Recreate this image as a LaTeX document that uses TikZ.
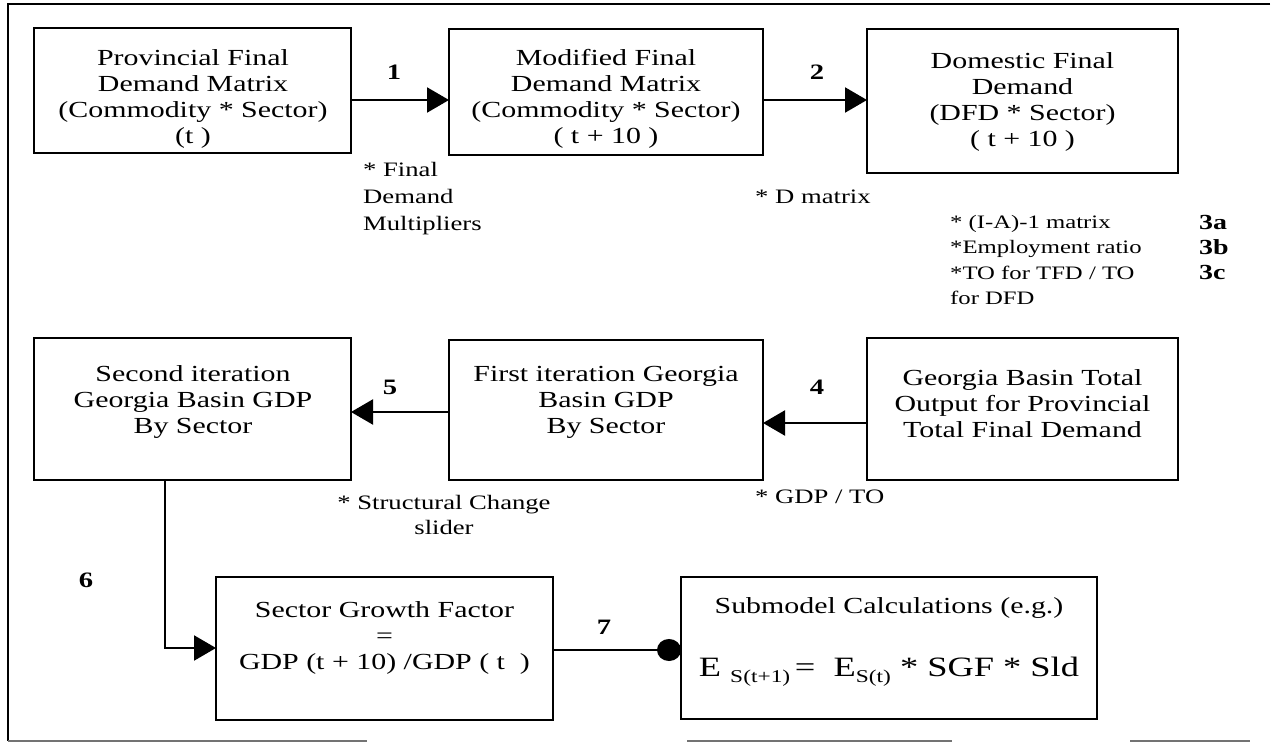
\documentclass[tikz,border=0pt]{standalone}
\usepackage{fontspec}
\setmainfont{Liberation Serif}[FakeStretch=1.3]
\usetikzlibrary{arrows.meta}
\begin{document}
\begin{tikzpicture}[x=1pt,y=-1pt,
  box/.style={draw, line width=2.8pt, anchor=north west, inner sep=0pt, outer sep=0pt},
  boxtext/.style={align=center, inner sep=0pt, font=\fontsize{23}{26}\selectfont},
  note/.style={align=left, inner sep=0pt, anchor=west, font=\fontsize{20.5}{27}\selectfont},
  num/.style={inner sep=0pt, font=\fontsize{22}{25}\selectfont\bfseries},
  conn/.style={line width=2.2pt, -{Triangle[length=22pt,width=25pt]}},
  dotconn/.style={line width=2.2pt, -{Circle[length=24pt,width=22pt]}},
  framerule/.style={line width=2.8pt},
  baserule/.style={line width=2pt, black!55},
]
\useasboundingbox (0,0) rectangle (1273,743);

% outer frame: heavy top and left rules, broken grey rule at the foot
\draw[framerule] (1270,4) -- (8,4) -- (8,741);
\draw[baserule] (8,741) -- (367,741);
\draw[baserule] (687,741) -- (952,741);
\draw[baserule] (1130,741) -- (1250,741);

% first row
\node[box, minimum width=317pt, minimum height=125pt] (A) at (34,28) {};
\node[boxtext] (At) at (193,99) {Provincial Final\\Demand Matrix\\(Commodity * Sector)\\(t )};
\node[box, minimum width=314pt, minimum height=126pt] (B) at (449,29) {};
\node[boxtext] (Bt) at (606,99) {Modified Final\\Demand Matrix\\(Commodity * Sector)\\( t + 10 )};
\node[box, minimum width=311pt, minimum height=144pt] (C) at (867,29) {};
\node[boxtext] (Ct) at (1022.5,102) {Domestic Final\\Demand\\(DFD * Sector)\\( t + 10 )};

% second row
\node[box, minimum width=317pt, minimum height=142pt] (D) at (34,338) {};
\node[boxtext] (Dt) at (193,402) {Second iteration\\Georgia Basin GDP\\By Sector};
\node[box, minimum width=314pt, minimum height=140pt] (E) at (449,340) {};
\node[boxtext] (Et) at (606,402) {First iteration Georgia\\Basin GDP\\By Sector};
\node[box, minimum width=311pt, minimum height=142pt] (F) at (867,338) {};
\node[boxtext] (Ft) at (1022.5,404) {Georgia Basin Total\\Output for Provincial\\Total Final Demand};

% third row
\node[box, minimum width=337pt, minimum height=143pt] (G) at (216,577) {};
\node[boxtext] (Gt) at (384.5,638) {Sector Growth Factor\\=\\GDP (t + 10) /GDP ( t\ \ )};
\node[box, minimum width=416pt, minimum height=142pt] (H) at (681,577) {};
\node[boxtext] (Ht) at (889,608) {Submodel Calculations (e.g.)};
\node[inner sep=0pt, font=\fontsize{28}{30}\selectfont] (Hf) at (889,672)
  {E\ \raisebox{-0.45ex}{\fontsize{18}{18}\selectfont S(t+1)}\,=\ \ E\raisebox{-0.45ex}{\fontsize{18}{18}\selectfont S(t)} * SGF * Sld};

% connectors
\draw[conn] (A.east |- 0,100) -- (B.west |- 0,100);
\draw[conn] (B.east |- 0,100) -- (C.west |- 0,100);
\draw[conn] (F.west |- 0,423) -- (E.east |- 0,423);
\draw[conn] (E.west |- 0,412) -- (D.east |- 0,412);
\draw[conn] (D.south -| 165,0) |- (G.west |- 0,648);
\draw[dotconn] (G.east |- 0,650) -- (H.west |- 0,650);

% step numbers
\node[num] (n1) at (394,72) {1};
\node[num] (n2) at (817,72) {2};
\node[num] (n4) at (817,387) {4};
\node[num] (n5) at (390,387) {5};
\node[num] (n6) at (86,580) {6};
\node[num] (n7) at (604,627) {7};
\node[num, align=left, anchor=west, font=\fontsize{21.5}{25.3}\selectfont\bfseries] (n3) at (1199,247.5) {3a\\3b\\3c};

% factors applied at each step
\node[note] (f1) at (363,199) {* Final\\Demand\\Multipliers};
\node[note] (f2) at (755,197) {* D matrix};
\node[note, font=\fontsize{19}{25.3}\selectfont] (f3) at (950,260)
  {* (I-A)-1 matrix\\*Employment ratio\\*TO for TFD / TO\\for DFD};
\node[note, anchor=center, align=center, font=\fontsize{20.5}{25}\selectfont] (f5) at (444,514.5) {* Structural Change\\slider};
\node[note] (f4) at (755,497) {* GDP / TO};
\end{tikzpicture}
\end{document}
